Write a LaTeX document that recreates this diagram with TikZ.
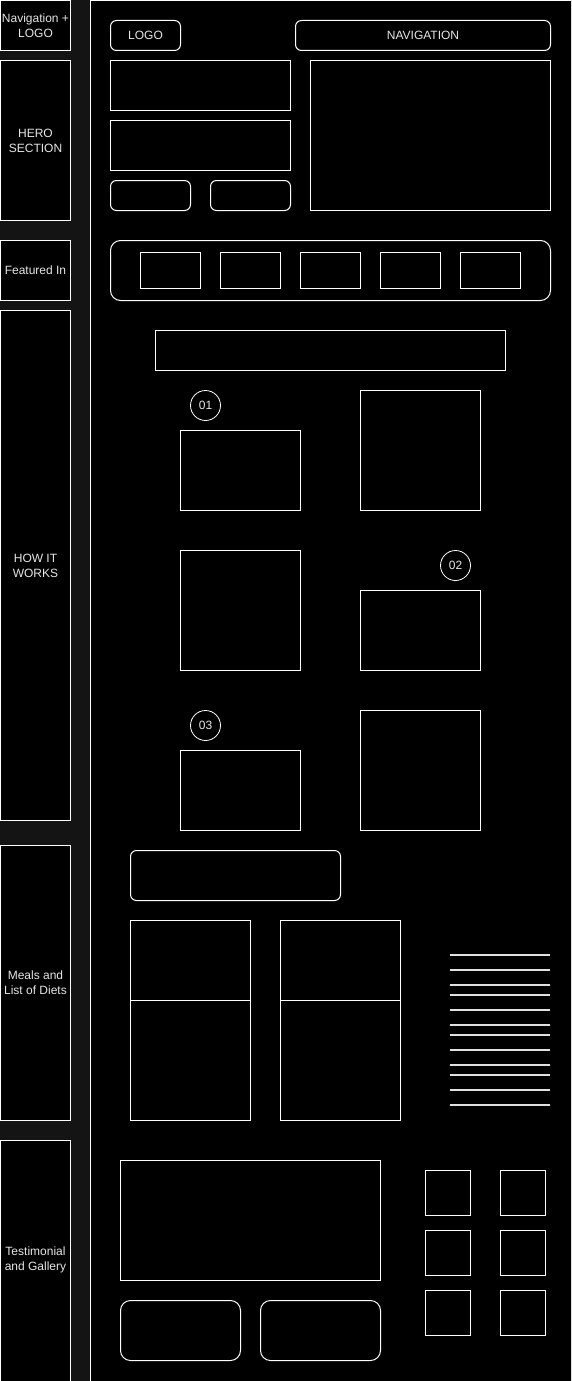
\documentclass[tikz,border=0pt]{standalone}
\usepackage{fontspec}
\setmainfont{Liberation Sans}
\definecolor{bgc}{HTML}{141414}
\definecolor{txt}{HTML}{E6E6E6}
\definecolor{lin}{HTML}{E0E0E0}
\begin{document}
\begin{tikzpicture}[x=1pt,y=-1pt,
  box/.style={draw=white,line width=1pt,fill=black,inner sep=0pt,outer sep=0pt,text=txt,font=\fontsize{12}{15}\selectfont,align=center},
  rbox/.style={box,rounded corners=6pt},
  rbig/.style={box,rounded corners=10pt},
  numc/.style={circle,draw=white,line width=0.8pt,fill=black,minimum size=30pt,inner sep=0pt,text=txt,font=\fontsize{12}{15}\selectfont},
  dline/.style={draw=lin,line width=2pt}]
\useasboundingbox (0,0) rectangle (571,1381);
\clip (0,0) rectangle (571,1381);
\fill[bgc] (0,0) rectangle (571,1381);
% main panel
\node[box,anchor=north west,minimum width=560pt,minimum height=1420pt] (panel) at (90.5,0.5) {};
% left labels
\newcommand\bx[6]{\node[#1,minimum width=#4pt,minimum height=#5pt] (#6) at ({#2+#4/2},{#3+#5/2})}
\bx{box}{0.5}{0.5}{70}{50}{lnav} {Navigation +\\LOGO};
\bx{box}{0.5}{60.5}{70}{160}{lhero} {HERO\\SECTION};
\bx{box}{0.5}{240.5}{70}{60}{lfeat} {Featured In};
\bx{box}{0.5}{310.5}{70}{510}{lhow} {HOW IT\\WORKS};
\bx{box}{0.5}{845.5}{70}{275}{lmeal} {Meals and\\List of Diets};
\bx{box}{0.5}{1140.5}{70}{260}{ltest} {};
\node[text=txt,font=\fontsize{12}{15}\selectfont,align=center] (ltesttxt) at (35.5,1260) {Testimonial\\and Gallery};
% nav
\bx{rbox}{110.5}{20.5}{70}{30}{logo} {LOGO};
\bx{rbox}{295.5}{20.5}{255}{30}{nav} {NAVIGATION};
% hero
\bx{box}{110.5}{60.5}{180}{50}{h1} {};
\bx{box}{110.5}{120.5}{180}{50}{h2} {};
\bx{rbox}{110.5}{180.5}{80}{30}{hb1} {};
\bx{rbox}{210.5}{180.5}{80}{30}{hb2} {};
\bx{box}{310.5}{60.5}{240}{150}{himg} {};
% featured
\bx{rbig}{110.5}{240.5}{440}{60}{feat} {};
\bx{box}{140.5}{252.5}{60}{36}{f1} {};
\bx{box}{220.5}{252.5}{60}{36}{f2} {};
\bx{box}{300.5}{252.5}{60}{36}{f3} {};
\bx{box}{380.5}{252.5}{60}{36}{f4} {};
\bx{box}{460.5}{252.5}{60}{36}{f5} {};
% how it works
\bx{box}{155.5}{330.5}{350}{40}{htitle} {};
\node[numc] (n1) at (205.5,405.5) {01};
\bx{box}{180.5}{430.5}{120}{80}{s1t} {};
\bx{box}{360.5}{390.5}{120}{120}{s1i} {};
\bx{box}{180.5}{550.5}{120}{120}{s2i} {};
\node[numc] (n2) at (455.5,565.5) {02};
\bx{box}{360.5}{590.5}{120}{80}{s2t} {};
\node[numc] (n3) at (205.5,725.5) {03};
\bx{box}{180.5}{750.5}{120}{80}{s3t} {};
\bx{box}{360.5}{710.5}{120}{120}{s3i} {};
% meals
\bx{rbox}{130.5}{850.5}{210}{50}{mtitle} {};
\bx{box}{130.5}{920.5}{120}{80}{m1a} {};
\bx{box}{130.5}{1000.5}{120}{120}{m1b} {};
\bx{box}{280.5}{920.5}{120}{80}{m2a} {};
\bx{box}{280.5}{1000.5}{120}{120}{m2b} {};
\foreach \yy [count=\i] in {955,970,985,995,1010,1025,1035,1050,1065,1075,1090,1105}{
  \coordinate (dl\i) at (450,\yy);
  \coordinate (dr\i) at (550,\yy);
  \draw[dline] (dl\i) -- (dr\i);
}
% testimonial
\bx{box}{120.5}{1160.5}{260}{120}{tmain} {};
\bx{rbig}{120.5}{1300.5}{120}{60}{tb1} {};
\bx{rbig}{260.5}{1300.5}{120}{60}{tb2} {};
\foreach \yy [count=\r] in {1170.5,1230.5,1290.5}{
  \bx{box}{425.5}{\yy}{45}{45}{ga\r} {};
  \bx{box}{500.5}{\yy}{45}{45}{gb\r} {};
}
\end{tikzpicture}
\end{document}
